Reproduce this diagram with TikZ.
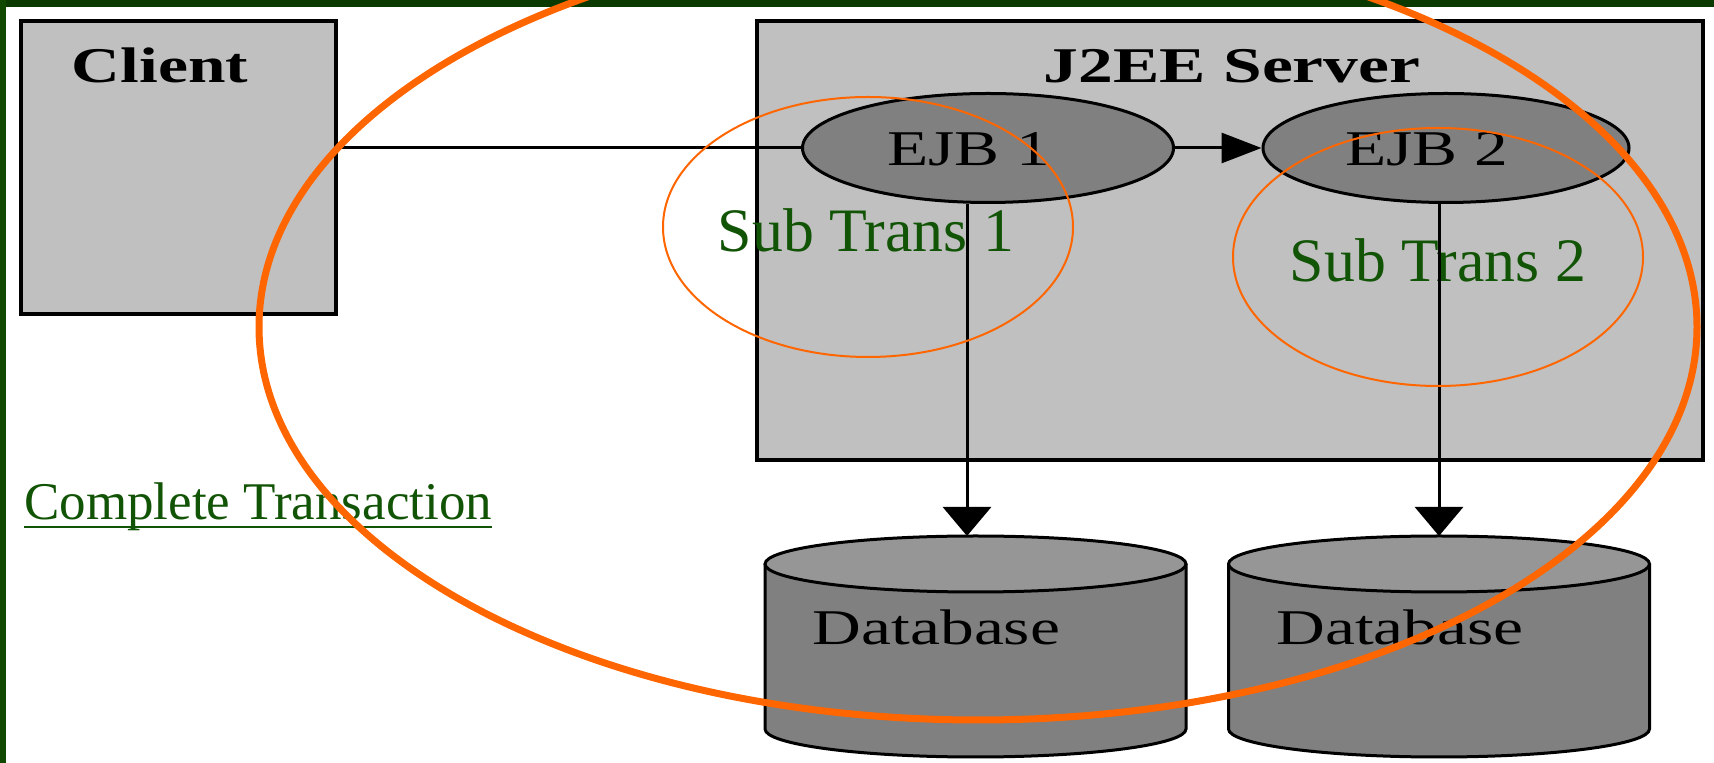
\documentclass[tikz,border=0pt]{standalone}
\usepackage{fontspec}
\setmainfont{Liberation Serif}
\usetikzlibrary{shapes.geometric, arrows.meta, positioning}

\definecolor{framegreen}{RGB}{11,58,0}
\definecolor{sidegreen}{RGB}{17,72,0}
\definecolor{textgreen}{RGB}{18,84,6}
\definecolor{transorange}{RGB}{255,102,0}
\definecolor{boxgray}{RGB}{192,192,192}
\definecolor{beangray}{RGB}{128,128,128}
\definecolor{lidgray}{RGB}{150,150,150}

\newcommand{\wide}[1]{\scalebox{1.35}[1]{#1}}

\begin{document}
\begin{tikzpicture}[x=0.5pt, y=-0.5pt,
    box/.style={draw, line width=2pt, fill=boxgray, inner sep=0pt},
    bean/.style={draw, ellipse, line width=1.5pt, fill=beangray, inner sep=0pt, minimum height=54.5pt},
    lbl/.style={inner sep=0pt, anchor=base, font=\fontsize{25}{30}\selectfont},
    title/.style={lbl, font=\fontsize{25}{30}\selectfont\bfseries},
    trans/.style={inner sep=0pt, anchor=base, text=textgreen, font=\fontsize{30.9}{36}\selectfont},
    conn/.style={line width=1.5pt},
    hconn/.style={conn, -{Triangle[length=20pt, width=15pt]}},
    vconn/.style={conn, -{Triangle[length=14.5pt, width=24pt]}},
    dbbody/.style={line width=1.5pt, fill=beangray},
    dblid/.style={line width=1.5pt, fill=lidgray},
    subtrans/.style={draw=transorange, line width=1pt},
    wholetrans/.style={draw=transorange, line width=3.5pt}]
        \fill[white] (0,0) rectangle (1714,763);
        \useasboundingbox (0,0) rectangle (1714,763);
        \fill[framegreen] (0,0) rectangle (1714,7);
        \fill[sidegreen] (0,0) rectangle (6,763);

        \node[box, minimum width=157.5pt, minimum height=146.5pt] (client) at (178.5,167.5) {};
        \node[title] (clienttxt) at (160,83) {\wide{Client}};
        \node[box, minimum width=473pt, minimum height=219.5pt] (server) at (1230,240.5) {};
        \node[title] (servertxt) at (1232,83) {\scalebox{1.39}[1]{J2EE Server}};

        \node[bean, minimum width=185.5pt] (ejb1) at (988,148) {};
        \node[lbl] (ejb1txt) at (969,166) {\wide{EJB 1}};
        \node[bean, minimum width=183pt] (ejb2) at (1446,148) {};
        \node[lbl] (ejb2txt) at (1427,166) {\wide{EJB 2}};

        \foreach \cx/\nm in {975.5/1, 1439/2} {
            \filldraw[dbbody] (\cx+210.5,564) -- (\cx+210.5,729) arc[start angle=0, end angle=180, x radius=210.5, y radius=28] -- (\cx-210.5,564);
            \filldraw[dblid] (\cx,564) ellipse[x radius=210.5, y radius=28];
            \node[lbl] (dbtxt\nm) at (\cx-39,645) {\wide{Database}};
        }
        \coordinate (db1top) at (967,536);
        \coordinate (db2top) at (1439,536);

        \node[trans] (sub1txt) at (866,252) {Sub Trans 1};
        \node[trans] (sub2txt) at (1438,282) {Sub Trans 2};

        \draw[conn] (client.east |- ejb1.west) -- (ejb1.west);
        \draw[hconn] (ejb1.east) -- (ejb2.west);
        \draw[vconn] (ejb1.south -| db1top) -- (db1top);
        \draw[vconn] (ejb2.south -| db2top) -- (db2top);

        \draw[subtrans] (868,227) ellipse[x radius=205, y radius=130];
        \draw[subtrans] (1438,257) ellipse[x radius=205, y radius=129];

        \node[inner sep=0pt, anchor=base west, text=textgreen, font=\fontsize{26.5}{32}\selectfont] (whole) at (24,520) {Complete Transaction};
        \draw[textgreen, line width=1.2pt] ([yshift=-3.5pt]whole.base west) -- ([yshift=-3.5pt]whole.base east);

        \draw[wholetrans] (978,327) ellipse[x radius=719, y radius=393];
    \end{tikzpicture}
\end{document}
